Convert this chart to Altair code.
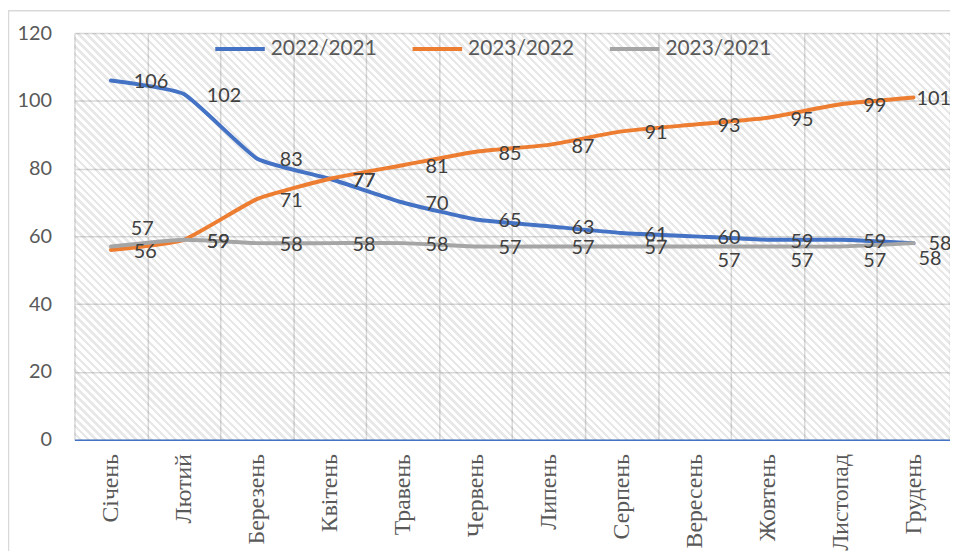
import altair as alt
import pandas as pd

# ---------------- data ----------------
months = ["Січень", "Лютий", "Березень", "Квітень", "Травень", "Червень",
          "Липень", "Серпень", "Вересень", "Жовтень", "Листопад", "Грудень"]
series_names = ["2022/2021", "2023/2022", "2023/2021"]
v_2022_2021 = [106, 102, 83, 77, 70, 65, 63, 61, 60, 59, 59, 58]
v_2023_2022 = [56, 59, 71, 77, 81, 85, 87, 91, 93, 95, 99, 101]
v_2023_2021 = [57, 59, 58, 58, 58, 57, 57, 57, 57, 57, 57, 58]
y_ticks = [0, 20, 40, 60, 80, 100, 120]

# ---------------- styles ----------------
colors = ["#4472C4", "#ED7D31", "#A5A5A5"]
W, H = 883, 410
SANS = "Lato"
SERIF = "Liberation Serif"

# label placements (where the labels were moved to avoid overlap)
special_place = {
    ("2023/2021", "Січень"): "above",
    ("2023/2021", "Вересень"): "below",
    ("2023/2021", "Жовтень"): "below",
    ("2023/2021", "Листопад"): "below",
    ("2023/2022", "Грудень"): "end_top",
    ("2022/2021", "Грудень"): "end_mid",
    ("2023/2021", "Грудень"): "end_low",
}
place_offsets = {
    "right": (23, 2),
    "above": (20, -18),
    "below": (23, 15),
    "end_top": (3, 2),
    "end_mid": (15, 1),
    "end_low": (5, 16),
}

rows = []
for name, vals in zip(series_names, [v_2022_2021, v_2023_2022, v_2023_2021]):
    for m, v in zip(months, vals):
        rows.append({"month": m, "series": name, "value": v,
                     "place": special_place.get((name, m), "right")})
df = pd.DataFrame(rows)

# hatch background built as a striped linear gradient (45° stripes)
N = 162
stripe = 0.45
stops = []
for i in range(N):
    a = i / N
    b = (i + 1 - stripe) / N
    c = (i + 1) / N
    stops += [
        {"offset": a, "color": "rgba(255,255,255,0)"},
        {"offset": b, "color": "rgba(255,255,255,0)"},
        {"offset": b, "color": "rgba(0,0,0,0.09)"},
        {"offset": c, "color": "rgba(0,0,0,0.09)"},
    ]
k = (W + H) / (W * W + H * H)
hatch = {"gradient": "linear", "x1": 0, "y1": 1, "x2": W * k, "y2": 1 - H * k, "stops": stops}

x_enc = alt.X("month:N", scale=alt.Scale(type="band", domain=months, paddingInner=0, paddingOuter=0),
              axis=alt.Axis(title=None, labelAngle=-90, labelFont=SERIF, labelFontSize=24,
                            labelColor="#595959", labelPadding=14, ticks=False,
                            domainColor="#4472C4", domainWidth=1.5, grid=True,
                            gridColor="#D9D9D9", gridWidth=1.5, tickBand="extent",
                            labelAlign="right", labelBaseline="middle"))
y_enc = alt.Y("value:Q", scale=alt.Scale(domain=[0, 120], nice=False),
              axis=alt.Axis(title=None, values=y_ticks, labelFont=SANS, labelFontSize=20,
                            labelColor="#595959", ticks=False, domain=False,
                            gridColor="#D9D9D9", gridWidth=1.5, labelPadding=23))

base = alt.Chart(df)

bg = alt.Chart(pd.DataFrame({"bg": [0]})).mark_rect(fill=hatch).encode(
    x=alt.value(0), x2=alt.value("width"), y=alt.value(0), y2=alt.value("height"))

border = alt.Chart(pd.DataFrame({"bg": [0]})).mark_rect(
    fillOpacity=0, stroke="#D9D9D9", strokeWidth=1.5).encode(
    x=alt.value(-66.5), x2=alt.value(W + 60), y=alt.value(-22.5), y2=alt.value(H + 200))

lines = base.transform_calculate(
    month_idx="indexof(" + str(months).replace("'", '"') + ", datum.month)"
).mark_line(strokeWidth=4, interpolate="cardinal", tension=0.55, strokeCap="round").encode(
    x=x_enc, y=y_enc,
    color=alt.Color("series:N",
                    scale=alt.Scale(domain=series_names, range=colors),
                    legend=alt.Legend(title=None, orient="none", legendX=140, legendY=-11,
                                      direction="horizontal", symbolType="stroke",
                                      symbolStrokeWidth=4, symbolSize=2500,
                                      labelFont=SANS, labelFontSize=21, labelColor="#595959",
                                      labelOffset=4, columnPadding=28, padding=0)),
    order=alt.Order("month_idx:Q"),
)

label_layers = []
for pname, (dx, dy) in place_offsets.items():
    label_layers.append(
        base.transform_filter(alt.datum.place == pname).mark_text(
            align="left", baseline="middle", dx=dx, dy=dy,
            font=SANS, fontSize=20, color="#404040").encode(
            x=alt.X("month:N", scale=alt.Scale(type="band", domain=months)),
            y=alt.Y("value:Q"),
            text=alt.Text("value:Q")))

chart = alt.layer(bg, border, lines, *label_layers).properties(
    width=W, height=H,
    autosize=alt.AutoSizeParams(type="none"),
    padding={"left": 67, "top": 23, "right": 0, "bottom": 110},
    background="white",
).configure_view(strokeWidth=0)

chart.save("out.html", embed_options={"renderer": "svg", "actions": False})
